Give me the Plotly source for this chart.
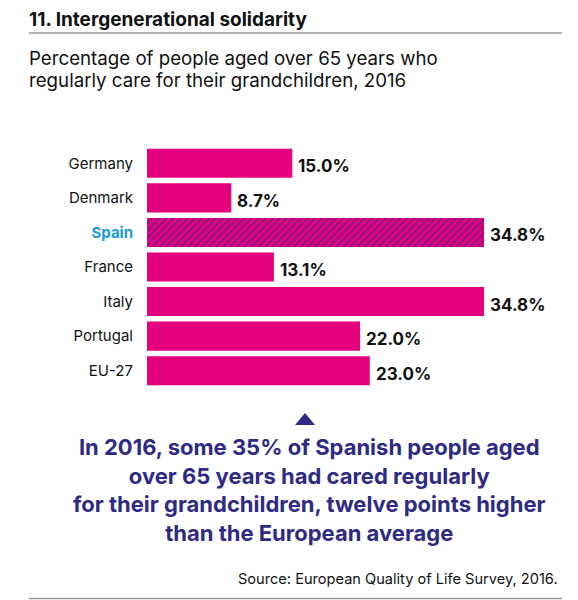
import plotly.graph_objects as go

countries = ["Germany", "Denmark", "Spain", "France", "Italy", "Portugal", "EU-27"]
values = [15.0, 8.7, 34.8, 13.1, 34.8, 22.0, 23.0]
highlight = "Spain"

title = "11. Intergenerational solidarity"
subtitle = ["Percentage of people aged over 65 years who",
            "regularly care for their grandchildren, 2016"]
message = ("In 2016, some 35% of Spanish people aged<br>over 65 years had cared regularly<br>"
           "for their grandchildren, twelve points higher<br>than the European average")
source = "Source: European Quality of Life Survey, 2016."

MAGENTA = "#E5007D"
NAVY = "#2E2A85"
BLUE = "#1A9AD9"
FONT = "Inter"

# plot area in pixels: x 147..578, y 146..388
L, R, T, B = 147, 578, 146, 388
W, H = 578, 600


def px(x):
    return (x - L) / (R - L)


def py(y):
    return (B - y) / (B - T)


patterns = ["/" if c == highlight else "" for c in countries]
ticktext = [f"<b><span style='color:{BLUE}'>{c}</span></b>" if c == highlight else c
            for c in countries]

fig = go.Figure(go.Bar(
    x=values,
    y=countries,
    orientation="h",
    width=0.84,
    marker=dict(
        color=MAGENTA,
        line=dict(width=0),
        pattern=dict(shape=patterns, fgcolor=NAVY, bgcolor=MAGENTA, size=5, solidity=0.4),
    ),
    hoverinfo="skip",
))

# value labels
for c, v in zip(countries, values):
    fig.add_annotation(x=v, y=c, text=f"<b>{v:.1f}%</b>", showarrow=False,
                       xanchor="left", yanchor="middle", xshift=4, yshift=-3,
                       font=dict(family=FONT, size=17, color="#111111"))

ann = dict(xref="paper", yref="paper", showarrow=False)
fig.add_annotation(**ann, x=px(27), y=py(19), xanchor="left", yanchor="middle",
                   text=f"<b>{title}</b>", font=dict(family=FONT, size=19, color="#111111"))
fig.add_annotation(**ann, x=px(27), y=py(58), xanchor="left", yanchor="middle",
                   text=subtitle[0], font=dict(family=FONT, size=18.7, color="#111111"))
fig.add_annotation(**ann, x=px(27), y=py(80), xanchor="left", yanchor="middle",
                   text=subtitle[1], font=dict(family=FONT, size=18.7, color="#111111"))
fig.add_annotation(**ann, x=px(309), y=py(490), xanchor="center", yanchor="middle",
                   align="center", text=f"<b>{message}</b>",
                   font=dict(family=FONT, size=22, color=NAVY))
fig.add_annotation(**ann, x=px(560), y=py(579), xanchor="right", yanchor="middle",
                   text=source, font=dict(family=FONT, size=14.6, color="#111111"))

line = dict(type="line", xref="paper", yref="paper", line=dict(color="#9A9A9A", width=1.5))
fig.add_shape(**line, x0=px(29), x1=px(562), y0=py(33), y1=py(33))
fig.add_shape(**line, x0=px(29), x1=px(562), y0=py(598.5), y1=py(598.5))
fig.add_shape(type="path", xref="paper", yref="paper", fillcolor=NAVY, line=dict(width=0),
              path=f"M {px(295)},{py(425)} L {px(315)},{py(425)} L {px(305)},{py(413)} Z")

fig.update_layout(
    width=W, height=H,
    margin=dict(l=L, r=W - R, t=T, b=H - B),
    paper_bgcolor="white", plot_bgcolor="white",
    showlegend=False,
    font=dict(family=FONT, size=15, color="#111111"),
    xaxis=dict(range=[0, 44.5], visible=False, fixedrange=True),
    yaxis=dict(categoryorder="array", categoryarray=countries, autorange="reversed",
               tickvals=countries, ticktext=ticktext, ticks="", showline=False,
               showgrid=False, zeroline=False, ticklabelstandoff=13,
               tickfont=dict(family=FONT, size=15, color="#111111"), fixedrange=True),
)

# drop the browser's default page margin so the figure sits at the window corner
fig.write_html("out.html", config={"displayModeBar": False},
               post_script="document.body.style.margin='0';")
